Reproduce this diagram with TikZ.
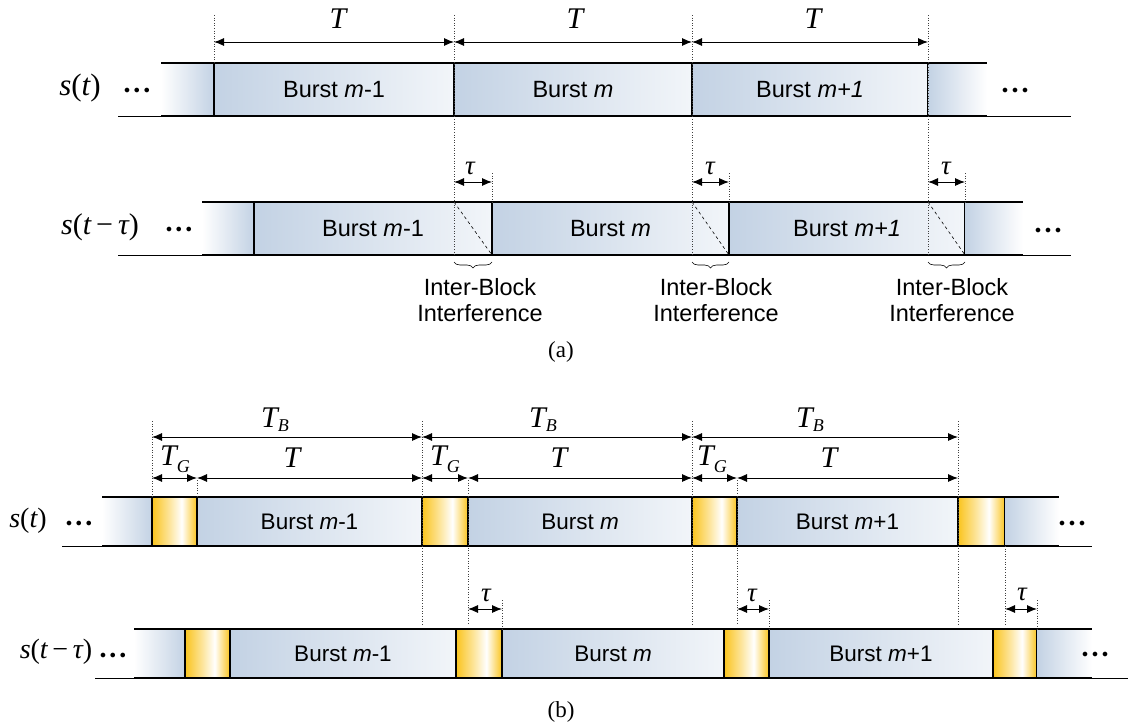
\documentclass[tikz,border=0pt]{standalone}
\usepackage{fontspec}
\setsansfont{Liberation Sans}
\newfontfamily\tms{Liberation Serif}
\usetikzlibrary{arrows.meta,decorations.pathreplacing}
\definecolor{bblue}{RGB}{195,210,228}
\definecolor{gold}{RGB}{250,196,30}
\pgfdeclarehorizontalshading{goldsh}{100bp}{color(0bp)=(gold); color(25bp)=(gold); color(44bp)=(gold!45!white); color(58bp)=(white); color(75bp)=(gold); color(100bp)=(gold)}
\newcommand{\mi}[1]{{\tms\itshape #1}}
\newcommand{\lbl}[1]{\fontsize{#1}{#1}\selectfont}
\newcommand{\tdots}{$\bullet$\hspace{4pt}$\bullet$\hspace{4pt}$\bullet$}
\begin{document}
\begin{tikzpicture}[x=1pt,y=-1pt,
  burst/.style={draw=black, line width=1.2pt, left color=bblue, right color=bblue!22!white, inner sep=0pt, outer sep=0pt, anchor=north west, font=\sffamily\lbl{23.5}},
  burstb/.style={burst, font=\sffamily\lbl{22.5}},
  guard/.style={draw=black, line width=1.2pt, shading=goldsh, inner sep=0pt, outer sep=0pt, anchor=north west},
  fadeL/.style={left color=white, right color=bblue, inner sep=0pt, outer sep=0pt, anchor=north west},
  fadeR/.style={left color=bblue, right color=white, inner sep=0pt, outer sep=0pt, anchor=north west},
  dimline/.style={{Latex[length=10pt,width=8pt]}-{Latex[length=10pt,width=8pt]}, line width=0.9pt},
  guide/.style={dotted, line width=0.6pt, black!75},
  rail/.style={line width=1.3pt},
  thinrail/.style={line width=0.7pt},
  brc/.style={decorate, decoration={brace, mirror, amplitude=6pt}, line width=0.6pt},
  bigT/.style={font=\tms\itshape\lbl{30}, inner sep=0pt, anchor=base},
  tau/.style={font=\tms\itshape\lbl{27}, inner sep=0pt, anchor=base},
  sig/.style={font=\tms\lbl{31}, inner sep=0pt},
  dots/.style={font=\lbl{13}, inner sep=0pt},
  ibi/.style={font=\sffamily\lbl{23.5}, align=center, inner sep=0pt},
  captxt/.style={font=\tms\lbl{23}, inner sep=0pt}
]
\useasboundingbox (0,0) rectangle (1128,728);

%%%%%%%%%%%%%%%% (a) row 1
\node[fadeL, minimum width=53pt, minimum height=53pt] (a1L) at (161,63) {};
\node[burst, minimum width=240pt, minimum height=53pt] (a1m1) at (214,63) {Burst \textit{m}-1};
\node[burst, minimum width=238pt, minimum height=53pt] (a1m) at (454,63) {Burst \textit{m}};
\node[burst, minimum width=236pt, minimum height=53pt] (a1p) at (692,63) {Burst \textit{m+1}};
\node[fadeR, minimum width=59pt, minimum height=53pt] (a1R) at (928,63) {};
\draw[rail] (a1L.north west) -- (a1R.north east);
\draw[rail] (a1L.south west) -- (a1R.south east);
\coordinate (a1tl) at (118,116);
\coordinate (a1tr) at (1071,116);
\draw[thinrail] (a1tl) -- (a1L.south west);
\draw[thinrail] (a1R.south east) -- (a1tr);
\node[sig] (a1s) at (80,88) {\mi{s}(\mi{t})};
\node[dots] (a1dl) at (137,91) {\tdots};
\node[dots] (a1dr) at (1015,91) {\tdots};

%%%%%%%%%%%%%%%% (a) row 2
\node[fadeL, minimum width=52pt, minimum height=53pt] (a2L) at (202,202) {};
\node[burst, minimum width=238pt, minimum height=53pt] (a2m1) at (254,202) {Burst \textit{m}-1};
\node[burst, minimum width=237pt, minimum height=53pt] (a2m) at (492,202) {Burst \textit{m}};
\node[burst, minimum width=236pt, minimum height=53pt] (a2p) at (729,202) {Burst \textit{m+1}};
\node[fadeR, minimum width=58pt, minimum height=53pt] (a2R) at (965,202) {};
\draw[rail] (a2L.north west) -- (a2R.north east);
\draw[rail] (a2L.south west) -- (a2R.south east);
\coordinate (a2tl) at (118,255);
\coordinate (a2tr) at (1071,255);
\draw[thinrail] (a2tl) -- (a2L.south west);
\draw[thinrail] (a2R.south east) -- (a2tr);
\node[sig, font=\tms\lbl{30}] (a2s) at (100,227) {\mi{s}(\mi{t}\,−\,\mi{τ})};
\node[dots] (a2dl) at (179,230) {\tdots};
\node[dots] (a2dr) at (1048,231) {\tdots};

% dashed diagonals
\draw[dashed, line width=0.6pt] (a1m1.east |- a2m1.north) -- (a2m1.south east);
\draw[dashed, line width=0.6pt] (a1m.east |- a2m.north) -- (a2m.south east);
\draw[dashed, line width=0.6pt] (a1p.east |- a2p.north) -- (a2p.south east);

% guides (a)
\coordinate (ga0) at (214,15);
\coordinate (ga1) at (454,15);
\coordinate (ga2) at (692,15);
\coordinate (ga3) at (928,15);
\draw[guide] (ga0) -- (a1m1.north west);
\draw[guide] (ga1) -- (a1m1.east |- a2m1.south);
\draw[guide] (ga2) -- (a1m.east |- a2m.south);
\draw[guide] (ga3) -- (a1p.east |- a2p.south);
\coordinate (gt1) at (492,173);
\coordinate (gt2) at (729,173);
\coordinate (gt3) at (965,173);
\draw[guide] (gt1) -- (a2m1.north east);
\draw[guide] (gt2) -- (a2m.north east);
\draw[guide] (gt3) -- (a2p.north east);

% T dimensions (a)
\coordinate (ta0) at (214,42);
\coordinate (ta1) at (454,42);
\coordinate (ta2) at (692,42);
\coordinate (ta3) at (928,42);
\draw[dimline] (ta0) -- (ta1);
\draw[dimline] (ta1) -- (ta2);
\draw[dimline] (ta2) -- (ta3);
\node[bigT] (tla1) at (338,28) {T};
\node[bigT] (tla2) at (575,28) {T};
\node[bigT] (tla3) at (813,28) {T};

% tau dimensions (a)
\coordinate (u1a) at (454,182);
\coordinate (u1b) at (492,182);
\coordinate (u2a) at (692,182);
\coordinate (u2b) at (729,182);
\coordinate (u3a) at (928,182);
\coordinate (u3b) at (965,182);
\draw[dimline] (u1a) -- (u1b);
\draw[dimline] (u2a) -- (u2b);
\draw[dimline] (u3a) -- (u3b);
\node[tau] (ula1) at (470,174) {τ};
\node[tau] (ula2) at (710,174) {τ};
\node[tau] (ula3) at (946,174) {τ};

% braces + IBI labels
\coordinate (b1a) at (454,262);
\coordinate (b1b) at (492,262);
\coordinate (b2a) at (692,262);
\coordinate (b2b) at (729,262);
\coordinate (b3a) at (928,262);
\coordinate (b3b) at (965,262);
\draw[brc] (b1a) -- (b1b);
\draw[brc] (b2a) -- (b2b);
\draw[brc] (b3a) -- (b3b);
\node[ibi] (ib1) at (480,300) {Inter-Block\\[2pt]Interference};
\node[ibi] (ib2) at (716,300) {Inter-Block\\[2pt]Interference};
\node[ibi] (ib3) at (952,300) {Inter-Block\\[2pt]Interference};

\node[captxt] (capa) at (561,352) {(a)};

%%%%%%%%%%%%%%%% (b) row 1
\node[fadeL, minimum width=50pt, minimum height=49pt] (b1L) at (102,497) {};
\node[guard, minimum width=45pt, minimum height=49pt] (b1g0) at (152,497) {};
\node[burstb, minimum width=225pt, minimum height=49pt] (b1m1) at (197,497) {Burst \textit{m}-1};
\node[guard, minimum width=46pt, minimum height=49pt] (b1g1) at (422,497) {};
\node[burstb, minimum width=224pt, minimum height=49pt] (b1m) at (468,497) {Burst \textit{m}};
\node[guard, minimum width=45pt, minimum height=49pt] (b1g2) at (692,497) {};
\node[burstb, minimum width=221pt, minimum height=49pt] (b1p) at (737,497) {Burst \textit{m}+1};
\node[guard, minimum width=47pt, minimum height=49pt] (b1g3) at (958,497) {};
\node[fadeR, minimum width=54pt, minimum height=49pt] (b1R) at (1005,497) {};
\draw[rail] (b1L.north west) -- (b1R.north east);
\draw[rail] (b1L.south west) -- (b1R.south east);
\coordinate (b1tl) at (62,546);
\coordinate (b1tr) at (1092,546);
\draw[thinrail] (b1tl) -- (b1L.south west);
\draw[thinrail] (b1R.south east) -- (b1tr);
\node[sig, font=\tms\lbl{28}] (b1s) at (28,521) {\mi{s}(\mi{t})};
\node[dots] (b1dl) at (79,524) {\tdots};
\node[dots] (b1dr) at (1072,524) {\tdots};

%%%%%%%%%%%%%%%% (b) row 2
\node[fadeL, minimum width=51pt, minimum height=49pt] (b2L) at (134,629) {};
\node[guard, minimum width=45pt, minimum height=49pt] (b2g0) at (185,629) {};
\node[burstb, minimum width=226pt, minimum height=49pt] (b2m1) at (230,629) {Burst \textit{m}-1};
\node[guard, minimum width=46pt, minimum height=49pt] (b2g1) at (456,629) {};
\node[burstb, minimum width=222pt, minimum height=49pt] (b2m) at (502,629) {Burst \textit{m}};
\node[guard, minimum width=45pt, minimum height=49pt] (b2g2) at (724,629) {};
\node[burstb, minimum width=224pt, minimum height=49pt] (b2p) at (769,629) {Burst \textit{m}+1};
\node[guard, minimum width=44pt, minimum height=49pt] (b2g3) at (993,629) {};
\node[fadeR, minimum width=55pt, minimum height=49pt] (b2R) at (1037,629) {};
\draw[rail] (b2L.north west) -- (b2R.north east);
\draw[rail] (b2L.south west) -- (b2R.south east);
\coordinate (b2tl) at (95,678);
\coordinate (b2tr) at (1128,678);
\draw[thinrail] (b2tl) -- (b2L.south west);
\draw[thinrail] (b2R.south east) -- (b2tr);
\node[sig, font=\tms\lbl{28}] (b2s) at (56,652) {\mi{s}(\mi{t}\,−\,\mi{τ})};
\node[dots] (b2dl) at (113,656) {\tdots};
\node[dots] (b2dr) at (1095,655) {\tdots};

% guides (b)
\coordinate (gb0) at (152,421);
\coordinate (gb1) at (422,421);
\coordinate (gb2) at (692,421);
\coordinate (gb3) at (958,421);
\coordinate (gc0) at (197,480);
\coordinate (gc1) at (468,480);
\coordinate (gc2) at (737,480);
\coordinate (hb1) at (422,625);
\coordinate (hb2) at (692,625);
\coordinate (hb3) at (958,625);
\coordinate (hc1) at (468,625);
\coordinate (hc2) at (737,625);
\coordinate (hc3) at (1005,625);
\draw[guide] (gb0) -- (b1g0.north west);
\draw[guide] (gc0) -- (b1m1.north west);
\draw[guide] (gb1) -- (hb1);
\draw[guide] (gb2) -- (hb2);
\draw[guide] (gb3) -- (hb3);
\draw[guide] (gc1) -- (hc1);
\draw[guide] (gc2) -- (hc2);
\draw[guide] (b1g3.south east) -- (hc3);
\coordinate (gd1) at (502,600);
\coordinate (gd2) at (769,600);
\coordinate (gd3) at (1037,600);
\draw[guide] (gd1) -- (b2g1.north east);
\draw[guide] (gd2) -- (b2g2.north east);
\draw[guide] (gd3) -- (b2g3.north east);

% T_B dims
\coordinate (tb0) at (152,437);
\coordinate (tb1) at (422,437);
\coordinate (tb2) at (692,437);
\coordinate (tb3) at (958,437);
\draw[dimline] (tb0) -- (tb1);
\draw[dimline] (tb1) -- (tb2);
\draw[dimline] (tb2) -- (tb3);
\node[bigT] (tbl1) at (275,427) {T\raisebox{-4pt}{\lbl{18}B}};
\node[bigT] (tbl2) at (543,427) {T\raisebox{-4pt}{\lbl{18}B}};
\node[bigT] (tbl3) at (810,427) {T\raisebox{-4pt}{\lbl{18}B}};

% T_G / T dims
\coordinate (tg0) at (152,478);
\coordinate (tg0e) at (197,478);
\coordinate (tg1) at (422,478);
\coordinate (tg1e) at (468,478);
\coordinate (tg2) at (692,478);
\coordinate (tg2e) at (737,478);
\coordinate (tg3) at (958,478);
\draw[dimline] (tg0) -- (tg0e);
\draw[dimline] (tg0e) -- (tg1);
\draw[dimline] (tg1) -- (tg1e);
\draw[dimline] (tg1e) -- (tg2);
\draw[dimline] (tg2) -- (tg2e);
\draw[dimline] (tg2e) -- (tg3);
\node[bigT] (tgl1) at (175,465) {T\raisebox{-7pt}{\lbl{18}G}};
\node[bigT] (tgl2) at (445,465) {T\raisebox{-7pt}{\lbl{18}G}};
\node[bigT] (tgl3) at (712,465) {T\raisebox{-7pt}{\lbl{18}G}};
\node[bigT] (tl1) at (292,467) {T};
\node[bigT] (tl2) at (559,467) {T};
\node[bigT] (tl3) at (829,467) {T};

% tau dims (b)
\coordinate (v1a) at (468,609);
\coordinate (v1b) at (502,609);
\coordinate (v2a) at (737,609);
\coordinate (v2b) at (769,609);
\coordinate (v3a) at (1005,609);
\coordinate (v3b) at (1037,609);
\draw[dimline] (v1a) -- (v1b);
\draw[dimline] (v2a) -- (v2b);
\draw[dimline] (v3a) -- (v3b);
\node[tau] (vl1) at (486,601) {τ};
\node[tau] (vl2) at (752,601) {τ};
\node[tau] (vl3) at (1022,600) {τ};

\node[captxt] (capb) at (561,712) {(b)};
\end{tikzpicture}
\end{document}
